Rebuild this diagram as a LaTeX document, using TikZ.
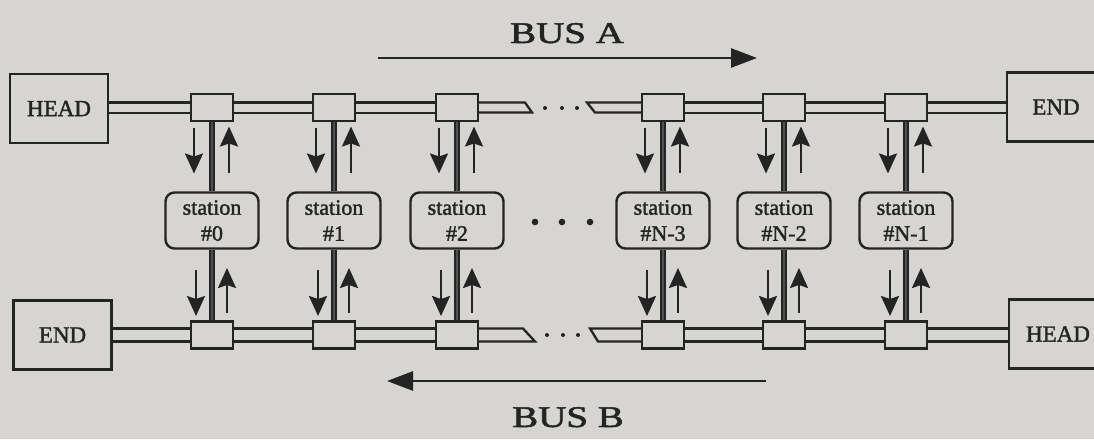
\documentclass[tikz,border=0pt]{standalone}
\usepackage{fontspec}
\setmainfont{Liberation Serif}[BoldFont=Liberation Serif, BoldFeatures={FakeBold=1.6}]
\usetikzlibrary{arrows.meta,calc}
\definecolor{bg}{RGB}{214,213,210}
\definecolor{ink}{RGB}{36,36,36}
\pgfdeclarelayer{back}
\pgfdeclarelayer{buslayer}
\pgfsetlayers{back,buslayer,main}
\begin{document}
\begin{tikzpicture}[x=1pt,y=-1pt,
  endbox/.style={draw=ink, line width=2.4pt, fill=bg, minimum width=98pt, minimum height=69pt, inner sep=0pt, font=\fontsize{23}{23}\selectfont\bfseries, text=ink},
  tap/.style={draw=ink, line width=2.4pt, fill=bg, minimum width=42pt, minimum height=27pt, inner sep=0pt},
  stationbox/.style={draw=ink, line width=2.4pt, fill=bg, rounded corners=9pt, minimum width=93pt, minimum height=56pt, align=center, font=\fontsize{22}{26}\selectfont\bfseries, text=ink, inner sep=0pt},
  busline/.style={draw=ink, line width=2.3pt, double=bg, double distance=8pt},
  buslineB/.style={draw=ink, line width=2.3pt, double=bg, double distance=10.5pt},
  brk/.style={draw=ink, line width=2.3pt},
  stub/.style={draw=ink, line width=6.5pt},
  stubcore/.style={draw=ink!75!bg, line width=1.2pt},
  sig/.style={draw=ink, line width=2.4pt, -{Stealth[length=20pt,width=18pt,inset=3pt]}},
  busarrow/.style={draw=ink, line width=2.6pt, -{Triangle[length=26pt,width=19pt]}},
  buslbl/.style={font=\fontsize{30}{30}\selectfont\bfseries, text=ink, inner sep=0pt, anchor=base},
  dotsm/.style={fill=ink},
]
\begin{pgfonlayer}{back}
\fill[bg] (0,0) rectangle (1094,439);
\end{pgfonlayer}
\clip (0,0) rectangle (1094,439);

% end boxes
\node[endbox] (headA) at (59,108.5) {HEAD};
\node[endbox] (endA) at (1056,107) {END};
\node[endbox] (endB) at (62.5,335) {END};
\node[endbox] (headB) at (1058,334) {HEAD};

% taps and stations
\foreach \i/\x/\lab in {0/212/\#0, 1/334/\#1, 2/457/\#2, 3/663/\#N-3, 4/784/\#N-2, 5/906/\#N-1}{
  \node[tap] (tA\i) at (\x,107.5) {};
  \node[tap] (tB\i) at (\x,335) {};
  \node[stationbox] (s\i) at (\x,220.5) {station\\\lab};
}

\begin{pgfonlayer}{buslayer}
% bus A (top)
\draw[busline] (headA.east |- tA0.west) -- (tA0.west);
\draw[busline] (tA0.east) -- (tA1.west);
\draw[busline] (tA1.east) -- (tA2.west);
\draw[busline] (tA3.east) -- (tA4.west);
\draw[busline] (tA4.east) -- (tA5.west);
\draw[busline] (tA5.east) -- (endA.west |- tA5.east);
% broken ends A
\coordinate (a1) at (525,102.5);
\coordinate (a2) at (532,112.5);
\coordinate (a3) at (587,102.5);
\coordinate (a4) at (595,112.5);
\fill[bg] ($(tA2.east)+(0,-5)$) -- (a1) -- (a2) -- ($(tA2.east)+(0,5)$) -- cycle;
\draw[brk] ($(tA2.east)+(0,-5)$) -- (a1) -- (a2) -- ($(tA2.east)+(0,5)$);
\fill[bg] ($(tA3.west)+(0,-5)$) -- (a3) -- (a4) -- ($(tA3.west)+(0,5)$) -- cycle;
\draw[brk] ($(tA3.west)+(0,-5)$) -- (a3) -- (a4) -- ($(tA3.west)+(0,5)$);

% bus B (bottom)
\draw[buslineB] (endB.east |- tB0.west) -- (tB0.west);
\draw[buslineB] (tB0.east) -- (tB1.west);
\draw[buslineB] (tB1.east) -- (tB2.west);
\draw[buslineB] (tB3.east) -- (tB4.west);
\draw[buslineB] (tB4.east) -- (tB5.west);
\draw[buslineB] (tB5.east) -- (headB.west |- tB5.east);
\coordinate (b1) at (523,328.5);
\coordinate (b2) at (535,341.5);
\coordinate (b3) at (590,328.5);
\coordinate (b4) at (598,341.5);
\fill[bg] ($(tB2.east)+(0,-6.5)$) -- (b1) -- (b2) -- ($(tB2.east)+(0,6.5)$) -- cycle;
\draw[brk] ($(tB2.east)+(0,-6.5)$) -- (b1) -- (b2) -- ($(tB2.east)+(0,6.5)$);
\fill[bg] ($(tB3.west)+(0,-6.5)$) -- (b3) -- (b4) -- ($(tB3.west)+(0,6.5)$) -- cycle;
\draw[brk] ($(tB3.west)+(0,-6.5)$) -- (b3) -- (b4) -- ($(tB3.west)+(0,6.5)$);

% stubs
\foreach \i in {0,...,5}{
  \draw[stub] (tA\i.south) -- (s\i.north);
  \draw[stub] (s\i.south) -- (tB\i.north);
  \draw[stubcore] (tA\i.south) -- (s\i.north);
  \draw[stubcore] (s\i.south) -- (tB\i.north);
}
\end{pgfonlayer}

% signal arrows
\foreach \i in {0,...,5}{
  \draw[sig] ($(tA\i)+(-18,20)$) -- ($(tA\i)+(-18,66)$);
  \draw[sig] ($(tA\i)+(17,65)$) -- ($(tA\i)+(17,19)$);
  \draw[sig] ($(tB\i)+(-16,-65)$) -- ($(tB\i)+(-16,-19)$);
  \draw[sig] ($(tB\i)+(15,-22)$) -- ($(tB\i)+(15,-67)$);
}

% dots
\foreach \x in {545,562,577}{ \fill[dotsm] (\x,108) circle (2); }
\foreach \x in {547,563,578}{ \fill[dotsm] (\x,335) circle (2); }
\foreach \x in {535,562,590}{ \fill[dotsm] (\x,222) circle (3.3); }

% bus labels and direction arrows
\node[buslbl] (lblA) at (567,43) {\scalebox{1.3}[1]{BUS A}};
\coordinate (arA1) at (378,58);
\coordinate (arA2) at (757,58);
\draw[busarrow] (arA1) -- (arA2);
\node[buslbl] (lblB) at (568,427) {\scalebox{1.3}[1]{BUS B}};
\coordinate (arB1) at (766,381);
\coordinate (arB2) at (387,381);
\draw[busarrow] (arB1) -- (arB2);
\end{tikzpicture}
\end{document}
